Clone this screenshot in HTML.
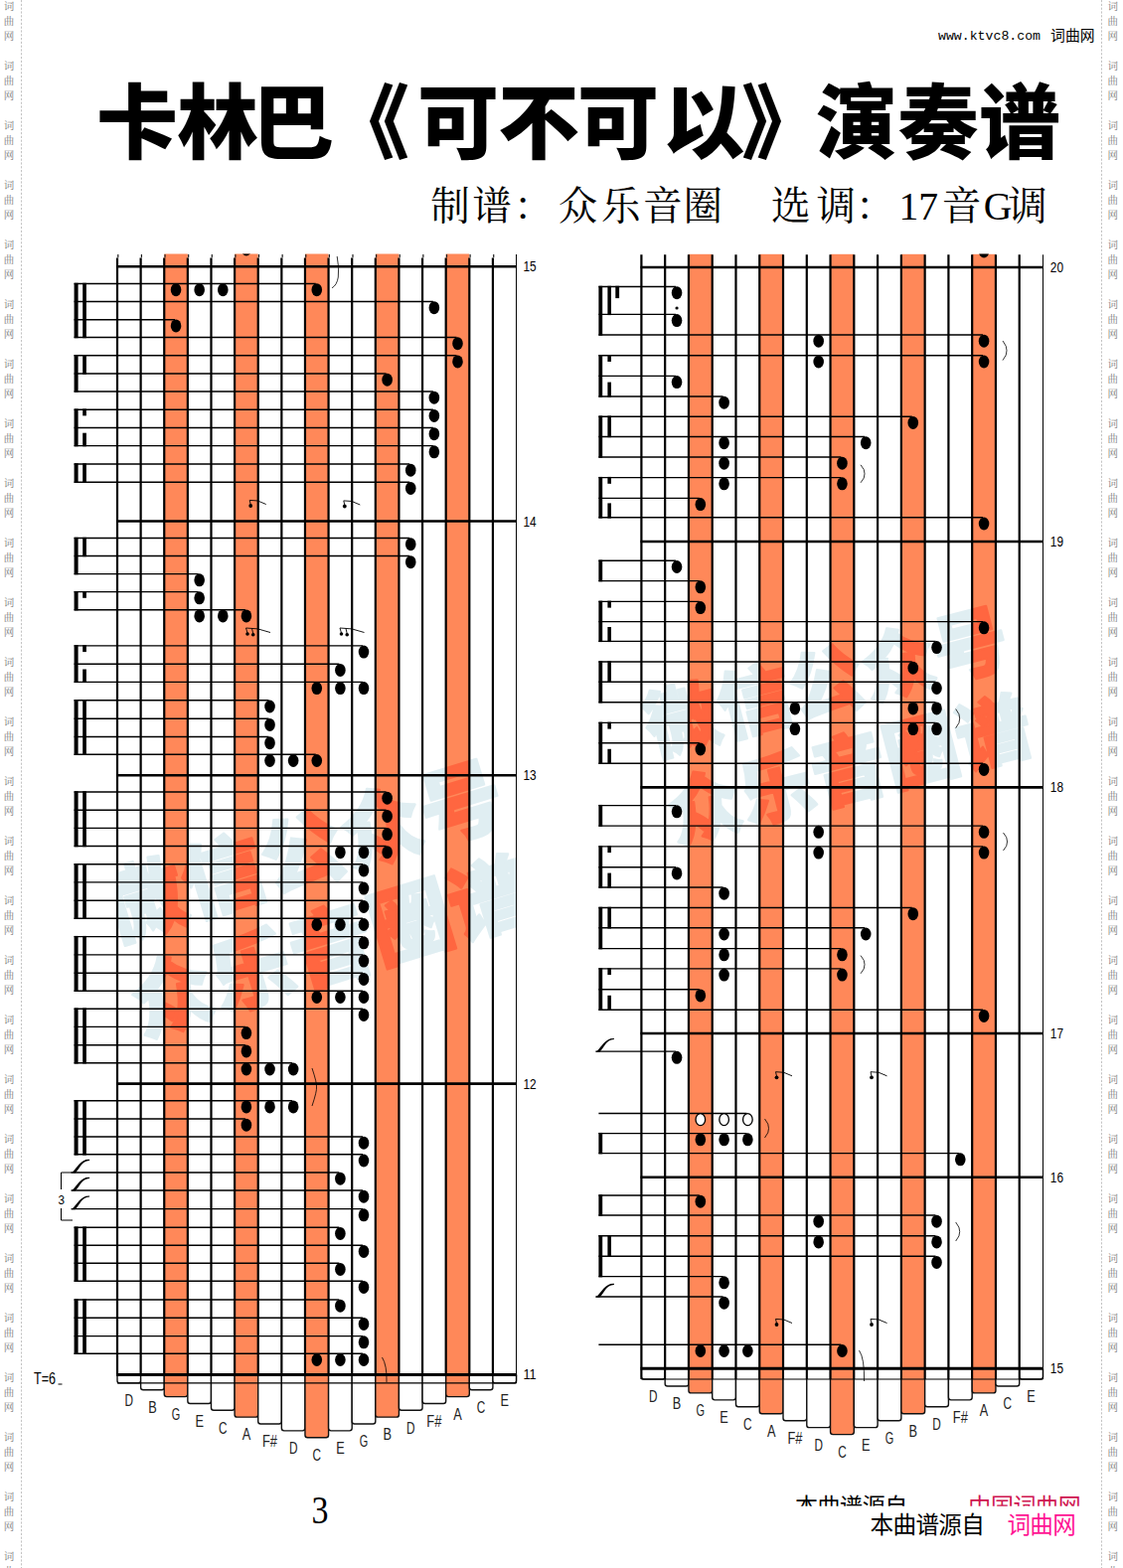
<!DOCTYPE html>
<html><head><meta charset="utf-8"><title>kalimba</title>
<style>html,body{margin:0;padding:0;background:#fff;width:1130px;height:1578px;overflow:hidden}svg{display:block}text{font-family:"Liberation Sans",sans-serif}text.mono{font-family:"Liberation Mono",monospace}text.serif{font-family:"Liberation Serif",serif}text.cjk{font-family:"Liberation Sans","Noto Sans CJK SC",sans-serif}text.cjkserif{font-family:"Liberation Serif","Noto Serif CJK SC",serif}text.wm{font-family:"Liberation Serif","Noto Serif CJK SC",serif;font-size:10.5px;fill:#808080}</style>
</head><body>
<svg width="1130" height="1578" viewBox="0 0 1130 1578">
<rect width="1130" height="1578" fill="#fff"/>
<clipPath id="pl"><rect x="118" y="256" width="402" height="1127"/></clipPath><clipPath id="pr"><rect x="645.4" y="256" width="404" height="1121"/></clipPath>
<g clip-path="url(#pl)">
<g transform="translate(318,902) rotate(-17)" fill="#E0EEF2" stroke="#E0EEF2" stroke-width="2.3" stroke-linejoin="round">
<text class="cjk" font-size="83" font-weight="900" x="-208.65 -125.19 -41.73 41.73 125.19" y="-16.56">微信公众号</text>
<text class="cjk" font-size="83" font-weight="900" x="-208.65 -125.19 -41.73 41.73 125.19" y="83.44">众乐音圈谱</text>
</g>
</g><g clip-path="url(#pr)">
<g transform="translate(842,728) rotate(-14.5)" fill="#E0EEF2" stroke="#E0EEF2" stroke-width="2.1" stroke-linejoin="round">
<text class="cjk" font-size="75" font-weight="900" x="-187.25 -112.35 -37.45 37.45 112.35" y="-15.1">微信公众号</text>
<text class="cjk" font-size="75" font-weight="900" x="-187.25 -112.35 -37.45 37.45 112.35" y="75.9">众乐音圈谱</text>
</g>
</g>
<rect x="165.24" y="255.5" width="23.62" height="1128.4" fill="#FF8859"/>
<rect x="236.1" y="255.5" width="23.62" height="1128.4" fill="#FF8859"/>
<rect x="306.96" y="255.5" width="23.62" height="1128.4" fill="#FF8859"/>
<rect x="377.82" y="255.5" width="23.62" height="1128.4" fill="#FF8859"/>
<rect x="448.68" y="255.5" width="23.62" height="1128.4" fill="#FF8859"/>
<rect x="692.94" y="255.8" width="23.77" height="1121.9" fill="#FF8859"/>
<rect x="764.25" y="255.8" width="23.77" height="1121.9" fill="#FF8859"/>
<rect x="835.56" y="255.8" width="23.77" height="1121.9" fill="#FF8859"/>
<rect x="906.87" y="255.8" width="23.77" height="1121.9" fill="#FF8859"/>
<rect x="978.18" y="255.8" width="23.77" height="1121.9" fill="#FF8859"/>
<clipPath id="bl"><rect x="165.24" y="255.5" width="23.62" height="1127.9"/><rect x="236.1" y="255.5" width="23.62" height="1127.9"/><rect x="306.96" y="255.5" width="23.62" height="1127.9"/><rect x="377.82" y="255.5" width="23.62" height="1127.9"/><rect x="448.68" y="255.5" width="23.62" height="1127.9"/></clipPath><clipPath id="br"><rect x="692.94" y="255.5" width="23.77" height="1121.7"/><rect x="764.25" y="255.5" width="23.77" height="1121.7"/><rect x="835.56" y="255.5" width="23.77" height="1121.7"/><rect x="906.87" y="255.5" width="23.77" height="1121.7"/><rect x="978.18" y="255.5" width="23.77" height="1121.7"/></clipPath>
<g clip-path="url(#bl)">
<g transform="translate(318,902) rotate(-17)" fill="#FF6640" stroke="#FF6640" stroke-width="2.3" stroke-linejoin="round">
<text class="cjk" font-size="83" font-weight="900" x="-208.65 -125.19 -41.73 41.73 125.19" y="-16.56">微信公众号</text>
<text class="cjk" font-size="83" font-weight="900" x="-208.65 -125.19 -41.73 41.73 125.19" y="83.44">众乐音圈谱</text>
</g>
</g>
<g clip-path="url(#br)">
<g transform="translate(842,728) rotate(-14.5)" fill="#FF6640" stroke="#FF6640" stroke-width="2.1" stroke-linejoin="round">
<text class="cjk" font-size="75" font-weight="900" x="-187.25 -112.35 -37.45 37.45 112.35" y="-15.1">微信公众号</text>
<text class="cjk" font-size="75" font-weight="900" x="-187.25 -112.35 -37.45 37.45 112.35" y="75.9">众乐音圈谱</text>
</g>
</g>
<path d="M118 1383.4V1389.4Q118 1391.9 120.5 1391.9H139.12Q141.62 1391.9 141.62 1389.4V1383.4" fill="#fff" stroke="#111" stroke-width="1.4"/>
<path d="M141.62 1383.4V1396.25Q141.62 1398.75 144.12 1398.75H162.74Q165.24 1398.75 165.24 1396.25V1383.4" fill="#fff" stroke="#111" stroke-width="1.4"/>
<path d="M165.24 1383.4V1403.1Q165.24 1405.6 167.74 1405.6H186.36Q188.86 1405.6 188.86 1403.1V1383.4" fill="#FF8859" stroke="#111" stroke-width="1.4"/>
<path d="M188.86 1383.4V1409.95Q188.86 1412.45 191.36 1412.45H209.98Q212.48 1412.45 212.48 1409.95V1383.4" fill="#fff" stroke="#111" stroke-width="1.4"/>
<path d="M212.48 1383.4V1416.8Q212.48 1419.3 214.98 1419.3H233.6Q236.1 1419.3 236.1 1416.8V1383.4" fill="#fff" stroke="#111" stroke-width="1.4"/>
<path d="M236.1 1383.4V1423.65Q236.1 1426.15 238.6 1426.15H257.22Q259.72 1426.15 259.72 1423.65V1383.4" fill="#FF8859" stroke="#111" stroke-width="1.4"/>
<path d="M259.72 1383.4V1430.5Q259.72 1433 262.22 1433H280.84Q283.34 1433 283.34 1430.5V1383.4" fill="#fff" stroke="#111" stroke-width="1.4"/>
<path d="M283.34 1383.4V1437.35Q283.34 1439.85 285.84 1439.85H304.46Q306.96 1439.85 306.96 1437.35V1383.4" fill="#fff" stroke="#111" stroke-width="1.4"/>
<path d="M306.96 1383.4V1444.2Q306.96 1446.7 309.46 1446.7H328.08Q330.58 1446.7 330.58 1444.2V1383.4" fill="#FF8859" stroke="#111" stroke-width="1.4"/>
<path d="M330.58 1383.4V1437.35Q330.58 1439.85 333.08 1439.85H351.7Q354.2 1439.85 354.2 1437.35V1383.4" fill="#fff" stroke="#111" stroke-width="1.4"/>
<path d="M354.2 1383.4V1430.5Q354.2 1433 356.7 1433H375.32Q377.82 1433 377.82 1430.5V1383.4" fill="#fff" stroke="#111" stroke-width="1.4"/>
<path d="M377.82 1383.4V1423.65Q377.82 1426.15 380.32 1426.15H398.94Q401.44 1426.15 401.44 1423.65V1383.4" fill="#FF8859" stroke="#111" stroke-width="1.4"/>
<path d="M401.44 1383.4V1416.8Q401.44 1419.3 403.94 1419.3H422.56Q425.06 1419.3 425.06 1416.8V1383.4" fill="#fff" stroke="#111" stroke-width="1.4"/>
<path d="M425.06 1383.4V1409.95Q425.06 1412.45 427.56 1412.45H446.18Q448.68 1412.45 448.68 1409.95V1383.4" fill="#fff" stroke="#111" stroke-width="1.4"/>
<path d="M448.68 1383.4V1403.1Q448.68 1405.6 451.18 1405.6H469.8Q472.3 1405.6 472.3 1403.1V1383.4" fill="#FF8859" stroke="#111" stroke-width="1.4"/>
<path d="M472.3 1383.4V1396.25Q472.3 1398.75 474.8 1398.75H493.42Q495.92 1398.75 495.92 1396.25V1383.4" fill="#fff" stroke="#111" stroke-width="1.4"/>
<path d="M495.92 1383.4V1389.4Q495.92 1391.9 498.42 1391.9H517.04Q519.54 1391.9 519.54 1389.4V1383.4" fill="#fff" stroke="#111" stroke-width="1.4"/>
<path d="M118 259.6V1383.4M141.62 259.6V1383.4M165.24 259.6V1383.4M188.86 259.6V1383.4M212.48 259.6V1383.4M236.1 259.6V1383.4M259.72 259.6V1383.4M283.34 259.6V1383.4M306.96 259.6V1383.4M330.58 259.6V1383.4M354.2 259.6V1383.4M377.82 259.6V1383.4M401.44 259.6V1383.4M425.06 259.6V1383.4M448.68 259.6V1383.4M472.3 259.6V1383.4M495.92 259.6V1383.4" stroke="#000" stroke-width="2.2" fill="none"/>
<path d="M118.8 256V259.2M142.42 256V259.2M166.04 256V259.2M189.66 256V259.2M213.28 256V259.2M236.9 256V259.2M260.52 256V259.2M284.14 256V259.2M307.76 256V259.2M331.38 256V259.2M355 256V259.2M378.62 256V259.2M402.24 256V259.2M425.86 256V259.2M449.48 256V259.2M473.1 256V259.2M496.72 256V259.2" stroke="#222" stroke-width="1.2" fill="none"/>
<path d="M519.54 256V1383.4" stroke="#000" stroke-width="1" fill="none"/>
<path d="M117.1 268.3H520.04" stroke="#000" stroke-width="2.6"/>
<text x="526.4" y="273.3" font-size="14" textLength="13.2" lengthAdjust="spacingAndGlyphs">15</text>
<path d="M117.1 524.5H520.04" stroke="#000" stroke-width="2.6"/>
<text x="526.4" y="529.5" font-size="14" textLength="13.2" lengthAdjust="spacingAndGlyphs">14</text>
<path d="M117.1 780.2H520.04" stroke="#000" stroke-width="2.6"/>
<text x="526.4" y="785.2" font-size="14" textLength="13.2" lengthAdjust="spacingAndGlyphs">13</text>
<path d="M117.1 1090.6H520.04" stroke="#000" stroke-width="2.6"/>
<text x="526.4" y="1095.6" font-size="14" textLength="13.2" lengthAdjust="spacingAndGlyphs">12</text>
<path d="M117.1 1383.4H520.04" stroke="#000" stroke-width="3.0"/>
<text x="526.4" y="1388.4" font-size="14" textLength="13.2" lengthAdjust="spacingAndGlyphs">11</text>
<path d="M118 1391.9H519.54M519.54 1383.4V1391.9" stroke="#000" stroke-width="1.1" fill="none"/>
<path d="M74.6 285.5H317.77M74.6 303.5H435.87M74.6 321.7H176.05M74.6 339.5H459.49M74.6 357.7H459.49M74.6 376H388.63M74.6 394H435.87M74.6 412.2H435.87M74.6 430.5H435.87M74.6 448.6H435.87M74.6 467H412.25M74.6 485.2H412.25M74.6 541.5H412.25M74.6 559.5H412.25M74.6 577.6H199.67M74.6 595.6H199.67M74.6 613.7H246.91M74.6 649.9H365.01M74.6 668.2H341.39M74.6 686.4H365.01M74.6 704.8H270.53M74.6 723.2H270.53M74.6 741.5H270.53M74.6 759.3H317.77M74.6 797H388.63M74.6 815.2H388.63M74.6 833.4H388.63M74.6 851.5H388.63M74.6 869.7H365.01M74.6 887.9H365.01M74.6 906.2H365.01M74.6 924.3H365.01M74.6 942.6H365.01M74.6 960.9H365.01M74.6 979.2H365.01M74.6 997.3H365.01M74.6 1015.2H365.01M74.6 1033.4H246.91M74.6 1051.7H246.91M74.6 1069.8H294.15M74.6 1107.7H294.15M74.6 1126H246.91M74.6 1144H365.01M74.6 1161.8H365.01M71.6 1180H341.39M71.6 1198H365.01M71.6 1216.6H365.01M74.6 1235.2H341.39M74.6 1253.2H365.01M74.6 1271.2H341.39M74.6 1289.2H365.01M74.6 1308H341.39M74.6 1326.2H365.01M74.6 1344.6H365.01M74.6 1362.3H365.01" stroke="#000" stroke-width="1.4" fill="none"/>
<rect x="74.6" y="284.8" width="4" height="55.4"/>
<rect x="83.2" y="284.8" width="3.7" height="55.4"/>
<rect x="74.6" y="357" width="4" height="37.7"/>
<rect x="83.2" y="357" width="3.7" height="19.7"/>
<rect x="74.6" y="411.5" width="4" height="37.8"/>
<rect x="83.2" y="411.5" width="3.7" height="6.9"/>
<rect x="83.2" y="435.7" width="3.7" height="13.6"/>
<rect x="74.6" y="466.3" width="4" height="19.6"/>
<rect x="83.2" y="466.3" width="3.7" height="19.6"/>
<rect x="74.6" y="540.8" width="4" height="37.5"/>
<rect x="83.2" y="540.8" width="3.7" height="19.4"/>
<rect x="74.6" y="594.9" width="4" height="19.5"/>
<rect x="83.2" y="594.9" width="3.7" height="6.9"/>
<rect x="74.6" y="649.2" width="4" height="37.9"/>
<rect x="83.2" y="649.2" width="3.7" height="6.9"/>
<rect x="83.2" y="673.5" width="3.7" height="13.6"/>
<rect x="74.6" y="704.1" width="4" height="55.9"/>
<rect x="83.2" y="704.1" width="3.7" height="55.9"/>
<rect x="74.6" y="796.3" width="4" height="55.9"/>
<rect x="83.2" y="796.3" width="3.7" height="55.9"/>
<rect x="74.6" y="869" width="4" height="56"/>
<rect x="83.2" y="869" width="3.7" height="56"/>
<rect x="74.6" y="941.9" width="4" height="56.1"/>
<rect x="83.2" y="941.9" width="3.7" height="56.1"/>
<rect x="74.6" y="1014.5" width="4" height="56"/>
<rect x="83.2" y="1014.5" width="3.7" height="56"/>
<rect x="74.6" y="1107" width="4" height="55.5"/>
<rect x="83.2" y="1107" width="3.7" height="55.5"/>
<rect x="74.6" y="1234.5" width="4" height="55.4"/>
<rect x="83.2" y="1234.5" width="3.7" height="55.4"/>
<rect x="74.6" y="1307.3" width="4" height="55.7"/>
<rect x="83.2" y="1307.3" width="3.7" height="55.7"/>
<ellipse cx="177.05" cy="291.7" rx="5.3" ry="6.5"/>
<ellipse cx="200.67" cy="291.7" rx="5.3" ry="6.5"/>
<ellipse cx="224.29" cy="291.7" rx="5.3" ry="6.5"/>
<ellipse cx="318.77" cy="291.7" rx="5.3" ry="6.5"/>
<ellipse cx="436.87" cy="309.7" rx="5.3" ry="6.5"/>
<ellipse cx="177.05" cy="327.9" rx="5.3" ry="6.5"/>
<ellipse cx="460.49" cy="345.7" rx="5.3" ry="6.5"/>
<ellipse cx="460.49" cy="363.9" rx="5.3" ry="6.5"/>
<ellipse cx="389.63" cy="382.2" rx="5.3" ry="6.5"/>
<ellipse cx="436.87" cy="400.2" rx="5.3" ry="6.5"/>
<ellipse cx="436.87" cy="418.4" rx="5.3" ry="6.5"/>
<ellipse cx="436.87" cy="436.7" rx="5.3" ry="6.5"/>
<ellipse cx="436.87" cy="454.8" rx="5.3" ry="6.5"/>
<ellipse cx="413.25" cy="473.2" rx="5.3" ry="6.5"/>
<ellipse cx="413.25" cy="491.4" rx="5.3" ry="6.5"/>
<ellipse cx="413.25" cy="547.7" rx="5.3" ry="6.5"/>
<ellipse cx="413.25" cy="565.7" rx="5.3" ry="6.5"/>
<ellipse cx="200.67" cy="583.8" rx="5.3" ry="6.5"/>
<ellipse cx="200.67" cy="601.8" rx="5.3" ry="6.5"/>
<ellipse cx="200.67" cy="619.9" rx="5.3" ry="6.5"/>
<ellipse cx="224.29" cy="619.9" rx="5.3" ry="6.5"/>
<ellipse cx="247.91" cy="619.9" rx="5.3" ry="6.5"/>
<ellipse cx="366.01" cy="656.1" rx="5.3" ry="6.5"/>
<ellipse cx="342.39" cy="674.4" rx="5.3" ry="6.5"/>
<ellipse cx="318.77" cy="692.6" rx="5.3" ry="6.5"/>
<ellipse cx="342.39" cy="692.6" rx="5.3" ry="6.5"/>
<ellipse cx="366.01" cy="692.6" rx="5.3" ry="6.5"/>
<ellipse cx="271.53" cy="711" rx="5.3" ry="6.5"/>
<ellipse cx="271.53" cy="729.4" rx="5.3" ry="6.5"/>
<ellipse cx="271.53" cy="747.7" rx="5.3" ry="6.5"/>
<ellipse cx="271.53" cy="765.5" rx="5.3" ry="6.5"/>
<ellipse cx="295.15" cy="765.5" rx="5.3" ry="6.5"/>
<ellipse cx="318.77" cy="765.5" rx="5.3" ry="6.5"/>
<ellipse cx="389.63" cy="803.2" rx="5.3" ry="6.5"/>
<ellipse cx="389.63" cy="821.4" rx="5.3" ry="6.5"/>
<ellipse cx="389.63" cy="839.6" rx="5.3" ry="6.5"/>
<ellipse cx="342.39" cy="857.7" rx="5.3" ry="6.5"/>
<ellipse cx="366.01" cy="857.7" rx="5.3" ry="6.5"/>
<ellipse cx="389.63" cy="857.7" rx="5.3" ry="6.5"/>
<ellipse cx="366.01" cy="875.9" rx="5.3" ry="6.5"/>
<ellipse cx="366.01" cy="894.1" rx="5.3" ry="6.5"/>
<ellipse cx="366.01" cy="912.4" rx="5.3" ry="6.5"/>
<ellipse cx="318.77" cy="930.5" rx="5.3" ry="6.5"/>
<ellipse cx="342.39" cy="930.5" rx="5.3" ry="6.5"/>
<ellipse cx="366.01" cy="930.5" rx="5.3" ry="6.5"/>
<ellipse cx="366.01" cy="948.8" rx="5.3" ry="6.5"/>
<ellipse cx="366.01" cy="967.1" rx="5.3" ry="6.5"/>
<ellipse cx="366.01" cy="985.4" rx="5.3" ry="6.5"/>
<ellipse cx="318.77" cy="1003.5" rx="5.3" ry="6.5"/>
<ellipse cx="342.39" cy="1003.5" rx="5.3" ry="6.5"/>
<ellipse cx="366.01" cy="1003.5" rx="5.3" ry="6.5"/>
<ellipse cx="366.01" cy="1021.4" rx="5.3" ry="6.5"/>
<ellipse cx="247.91" cy="1039.6" rx="5.3" ry="6.5"/>
<ellipse cx="247.91" cy="1057.9" rx="5.3" ry="6.5"/>
<ellipse cx="247.91" cy="1076" rx="5.3" ry="6.5"/>
<ellipse cx="271.53" cy="1076" rx="5.3" ry="6.5"/>
<ellipse cx="295.15" cy="1076" rx="5.3" ry="6.5"/>
<ellipse cx="247.91" cy="1113.9" rx="5.3" ry="6.5"/>
<ellipse cx="271.53" cy="1113.9" rx="5.3" ry="6.5"/>
<ellipse cx="295.15" cy="1113.9" rx="5.3" ry="6.5"/>
<ellipse cx="247.91" cy="1132.2" rx="5.3" ry="6.5"/>
<ellipse cx="366.01" cy="1150.2" rx="5.3" ry="6.5"/>
<ellipse cx="366.01" cy="1168" rx="5.3" ry="6.5"/>
<ellipse cx="342.39" cy="1186.2" rx="5.3" ry="6.5"/>
<path d="M71.6 1180.6L75.6 1180.6C80.6 1176 81.6 1168.5 90.1 1168L90.1 1166.8C80.6 1166.5 78.6 1175 71.6 1180.6Z"/>
<ellipse cx="366.01" cy="1204.2" rx="5.3" ry="6.5"/>
<path d="M71.6 1198.6L75.6 1198.6C80.6 1194 81.6 1186.5 90.1 1186L90.1 1184.8C80.6 1184.5 78.6 1193 71.6 1198.6Z"/>
<ellipse cx="366.01" cy="1222.8" rx="5.3" ry="6.5"/>
<path d="M71.6 1217.2L75.6 1217.2C80.6 1212.6 81.6 1205.1 90.1 1204.6L90.1 1203.4C80.6 1203.1 78.6 1211.6 71.6 1217.2Z"/>
<ellipse cx="342.39" cy="1241.4" rx="5.3" ry="6.5"/>
<ellipse cx="366.01" cy="1259.4" rx="5.3" ry="6.5"/>
<ellipse cx="342.39" cy="1277.4" rx="5.3" ry="6.5"/>
<ellipse cx="366.01" cy="1295.4" rx="5.3" ry="6.5"/>
<ellipse cx="342.39" cy="1314.2" rx="5.3" ry="6.5"/>
<ellipse cx="366.01" cy="1332.4" rx="5.3" ry="6.5"/>
<ellipse cx="366.01" cy="1350.8" rx="5.3" ry="6.5"/>
<ellipse cx="318.77" cy="1368.5" rx="5.3" ry="6.5"/>
<ellipse cx="342.39" cy="1368.5" rx="5.3" ry="6.5"/>
<ellipse cx="366.01" cy="1368.5" rx="5.3" ry="6.5"/>
<text x="125.56" y="1415.1" font-size="17" textLength="8.5" lengthAdjust="spacingAndGlyphs" fill="#222">D</text>
<text x="149.18" y="1421.95" font-size="17" textLength="8.5" lengthAdjust="spacingAndGlyphs" fill="#222">B</text>
<text x="172.8" y="1428.8" font-size="17" textLength="8.5" lengthAdjust="spacingAndGlyphs" fill="#222">G</text>
<text x="196.42" y="1435.65" font-size="17" textLength="8.5" lengthAdjust="spacingAndGlyphs" fill="#222">E</text>
<text x="220.04" y="1442.5" font-size="17" textLength="8.5" lengthAdjust="spacingAndGlyphs" fill="#222">C</text>
<text x="243.66" y="1449.35" font-size="17" textLength="8.5" lengthAdjust="spacingAndGlyphs" fill="#222">A</text>
<text x="264.03" y="1456.2" font-size="17" textLength="15" lengthAdjust="spacingAndGlyphs" fill="#222">F#</text>
<text x="290.9" y="1463.05" font-size="17" textLength="8.5" lengthAdjust="spacingAndGlyphs" fill="#222">D</text>
<text x="314.52" y="1469.9" font-size="17" textLength="8.5" lengthAdjust="spacingAndGlyphs" fill="#222">C</text>
<text x="338.14" y="1463.05" font-size="17" textLength="8.5" lengthAdjust="spacingAndGlyphs" fill="#222">E</text>
<text x="361.76" y="1456.2" font-size="17" textLength="8.5" lengthAdjust="spacingAndGlyphs" fill="#222">G</text>
<text x="385.38" y="1449.35" font-size="17" textLength="8.5" lengthAdjust="spacingAndGlyphs" fill="#222">B</text>
<text x="409" y="1442.5" font-size="17" textLength="8.5" lengthAdjust="spacingAndGlyphs" fill="#222">D</text>
<text x="429.37" y="1435.65" font-size="17" textLength="15" lengthAdjust="spacingAndGlyphs" fill="#222">F#</text>
<text x="456.24" y="1428.8" font-size="17" textLength="8.5" lengthAdjust="spacingAndGlyphs" fill="#222">A</text>
<text x="479.86" y="1421.95" font-size="17" textLength="8.5" lengthAdjust="spacingAndGlyphs" fill="#222">C</text>
<text x="503.48" y="1415.1" font-size="17" textLength="8.5" lengthAdjust="spacingAndGlyphs" fill="#222">E</text>
<circle cx="252.2" cy="509" r="1.9"/><path d="M252.5 509L251.2 503.4Q259.2 502.5 267.7 507.5" fill="none" stroke="#000" stroke-width="0.9"/>
<circle cx="346.8" cy="509.5" r="1.9"/><path d="M347.1 509.5L345.8 503.9Q353.8 503 362.3 508" fill="none" stroke="#000" stroke-width="0.9"/>
<circle cx="249" cy="638" r="1.8"/><circle cx="254.7" cy="638.8" r="1.8"/><path d="M249.3 638L247.5 632Q259 631.5 272 636.5M255 638.8L253.5 632.5" fill="none" stroke="#000" stroke-width="0.9"/>
<circle cx="343.5" cy="638" r="1.8"/><circle cx="349.2" cy="638.8" r="1.8"/><path d="M343.8 638L342 632Q353.5 631.5 366.5 636.5M349.5 638.8L348 632.5" fill="none" stroke="#000" stroke-width="0.9"/>
<path d="M314 1075Q319 1090 318.5 1094Q319 1098 314 1113" fill="none" stroke="#000" stroke-width="0.8"/>
<path d="M339.2 258Q341.5 270 340.3 279Q339 287 334 289.8" fill="none" stroke="#000" stroke-width="0.8"/>
<path d="M384.5 1366Q389.5 1374 389 1391" fill="none" stroke="#000" stroke-width="0.8"/>
<path d="M72 1180H61.5V1197M61.5 1216V1228H73" fill="none" stroke="#000" stroke-width="1"/>
<text x="58.6" y="1211.5" font-size="13" textLength="6.5" lengthAdjust="spacingAndGlyphs">3</text>
<clipPath id="ctl"><rect x="0" y="255.5" width="1130" height="20"/></clipPath><ellipse cx="247.91" cy="251" rx="5.2" ry="6.4" clip-path="url(#ctl)"/>
<text x="34" y="1393.2" font-size="16" textLength="22" lengthAdjust="spacingAndGlyphs">T=6</text><path d="M58.5 1393H62.5" stroke="#000" stroke-width="1"/>
<path d="M645.4 1377.2V1385.5Q645.4 1388 647.9 1388H666.67Q669.17 1388 669.17 1385.5V1377.2" fill="#fff" stroke="#111" stroke-width="1.4"/>
<path d="M669.17 1377.2V1392.45Q669.17 1394.95 671.67 1394.95H690.44Q692.94 1394.95 692.94 1392.45V1377.2" fill="#fff" stroke="#111" stroke-width="1.4"/>
<path d="M692.94 1377.2V1399.4Q692.94 1401.9 695.44 1401.9H714.21Q716.71 1401.9 716.71 1399.4V1377.2" fill="#FF8859" stroke="#111" stroke-width="1.4"/>
<path d="M716.71 1377.2V1406.35Q716.71 1408.85 719.21 1408.85H737.98Q740.48 1408.85 740.48 1406.35V1377.2" fill="#fff" stroke="#111" stroke-width="1.4"/>
<path d="M740.48 1377.2V1413.3Q740.48 1415.8 742.98 1415.8H761.75Q764.25 1415.8 764.25 1413.3V1377.2" fill="#fff" stroke="#111" stroke-width="1.4"/>
<path d="M764.25 1377.2V1420.25Q764.25 1422.75 766.75 1422.75H785.52Q788.02 1422.75 788.02 1420.25V1377.2" fill="#FF8859" stroke="#111" stroke-width="1.4"/>
<path d="M788.02 1377.2V1427.2Q788.02 1429.7 790.52 1429.7H809.29Q811.79 1429.7 811.79 1427.2V1377.2" fill="#fff" stroke="#111" stroke-width="1.4"/>
<path d="M811.79 1377.2V1434.15Q811.79 1436.65 814.29 1436.65H833.06Q835.56 1436.65 835.56 1434.15V1377.2" fill="#fff" stroke="#111" stroke-width="1.4"/>
<path d="M835.56 1377.2V1441.1Q835.56 1443.6 838.06 1443.6H856.83Q859.33 1443.6 859.33 1441.1V1377.2" fill="#FF8859" stroke="#111" stroke-width="1.4"/>
<path d="M859.33 1377.2V1434.15Q859.33 1436.65 861.83 1436.65H880.6Q883.1 1436.65 883.1 1434.15V1377.2" fill="#fff" stroke="#111" stroke-width="1.4"/>
<path d="M883.1 1377.2V1427.2Q883.1 1429.7 885.6 1429.7H904.37Q906.87 1429.7 906.87 1427.2V1377.2" fill="#fff" stroke="#111" stroke-width="1.4"/>
<path d="M906.87 1377.2V1420.25Q906.87 1422.75 909.37 1422.75H928.14Q930.64 1422.75 930.64 1420.25V1377.2" fill="#FF8859" stroke="#111" stroke-width="1.4"/>
<path d="M930.64 1377.2V1413.3Q930.64 1415.8 933.14 1415.8H951.91Q954.41 1415.8 954.41 1413.3V1377.2" fill="#fff" stroke="#111" stroke-width="1.4"/>
<path d="M954.41 1377.2V1406.35Q954.41 1408.85 956.91 1408.85H975.68Q978.18 1408.85 978.18 1406.35V1377.2" fill="#fff" stroke="#111" stroke-width="1.4"/>
<path d="M978.18 1377.2V1399.4Q978.18 1401.9 980.68 1401.9H999.45Q1001.95 1401.9 1001.95 1399.4V1377.2" fill="#FF8859" stroke="#111" stroke-width="1.4"/>
<path d="M1001.95 1377.2V1392.45Q1001.95 1394.95 1004.45 1394.95H1023.22Q1025.72 1394.95 1025.72 1392.45V1377.2" fill="#fff" stroke="#111" stroke-width="1.4"/>
<path d="M1025.72 1377.2V1385.5Q1025.72 1388 1028.22 1388H1046.99Q1049.49 1388 1049.49 1385.5V1377.2" fill="#fff" stroke="#111" stroke-width="1.4"/>
<path d="M645.4 256.3V1377.2M669.17 256.3V1377.2M692.94 256.3V1377.2M716.71 256.3V1377.2M740.48 256.3V1377.2M764.25 256.3V1377.2M788.02 256.3V1377.2M811.79 256.3V1377.2M835.56 256.3V1377.2M859.33 256.3V1377.2M883.1 256.3V1377.2M906.87 256.3V1377.2M930.64 256.3V1377.2M954.41 256.3V1377.2M978.18 256.3V1377.2M1001.95 256.3V1377.2M1025.72 256.3V1377.2" stroke="#000" stroke-width="2.2" fill="none"/>
<path d="M0 0" stroke="#222" stroke-width="1.2" fill="none"/>
<path d="M1049.49 256.3V1377.2" stroke="#000" stroke-width="1" fill="none"/>
<path d="M644.5 269H1049.99" stroke="#000" stroke-width="2.6"/>
<text x="1056.8" y="274" font-size="14" textLength="13.2" lengthAdjust="spacingAndGlyphs">20</text>
<path d="M644.5 545H1049.99" stroke="#000" stroke-width="2.6"/>
<text x="1056.8" y="550" font-size="14" textLength="13.2" lengthAdjust="spacingAndGlyphs">19</text>
<path d="M644.5 792.4H1049.99" stroke="#000" stroke-width="2.6"/>
<text x="1056.8" y="797.4" font-size="14" textLength="13.2" lengthAdjust="spacingAndGlyphs">18</text>
<path d="M644.5 1040H1049.99" stroke="#000" stroke-width="2.6"/>
<text x="1056.8" y="1045" font-size="14" textLength="13.2" lengthAdjust="spacingAndGlyphs">17</text>
<path d="M644.5 1184.8H1049.99" stroke="#000" stroke-width="2.6"/>
<text x="1056.8" y="1189.8" font-size="14" textLength="13.2" lengthAdjust="spacingAndGlyphs">16</text>
<path d="M644.5 1377.2H1049.99" stroke="#000" stroke-width="3.0"/>
<text x="1056.8" y="1382.2" font-size="14" textLength="13.2" lengthAdjust="spacingAndGlyphs">15</text>
<path d="M645.4 1377.2V1388M669.17 1377.2V1388M692.94 1377.2V1388M716.71 1377.2V1388M740.48 1377.2V1388M764.25 1377.2V1388M788.02 1377.2V1388M811.79 1377.2V1388M835.56 1377.2V1388M859.33 1377.2V1388M883.1 1377.2V1388M906.87 1377.2V1388M930.64 1377.2V1388M954.41 1377.2V1388M978.18 1377.2V1388M1001.95 1377.2V1388M1025.72 1377.2V1388" stroke="#000" stroke-width="2" fill="none"/>
<path d="M645.4 1388H1049.49M1049.49 1377.2V1388" stroke="#000" stroke-width="1.1" fill="none"/>
<path d="M602.4 288.5H680.05M602.4 316.4H680.05M602.4 337H989.07M602.4 357.8H989.07M602.4 378.4H680.05M602.4 399H727.6M602.4 419.2H917.75M602.4 439.5H870.21M602.4 460H846.44M602.4 480.6H846.44M602.4 501.4H703.82M602.4 520.8H989.07M602.4 564.3H680.05M602.4 584.6H703.82M602.4 605.4H703.82M602.4 625.6H989.07M602.4 645.4H941.52M602.4 666H917.75M602.4 686.3H941.52M602.4 706.7H941.52M602.4 727.4H941.52M602.4 747.8H703.82M602.4 768.2H989.07M602.4 810.6H680.05M602.4 831.1H989.07M602.4 851.9H989.07M602.4 872.7H680.05M602.4 893H727.6M602.4 913.5H917.75M602.4 933.8H870.21M602.4 954.6H846.44M602.4 974.9H846.44M602.4 995.7H703.82M602.4 1016.2H989.07M599.4 1058.1H680.05M602.4 1120.5H751.37M602.4 1140.6H751.37M602.4 1160.6H965.29M602.4 1203H703.82M602.4 1223H941.52M602.4 1243.7H941.52M602.4 1264.2H941.52M602.4 1284.6H727.6M599.4 1305H727.6M602.4 1353.3H846.44" stroke="#000" stroke-width="1.4" fill="none"/>
<rect x="602.4" y="287.8" width="3.8" height="49.9"/>
<rect x="611.4" y="287.8" width="3.6" height="29.3"/>
<rect x="619.3" y="287.8" width="3.8" height="12.3"/>
<rect x="602.4" y="357.1" width="3.8" height="42.6"/>
<rect x="611.4" y="357.1" width="3.6" height="6.9"/>
<rect x="611.4" y="384.6" width="3.6" height="15.1"/>
<rect x="602.4" y="418.5" width="3.8" height="42.2"/>
<rect x="611.4" y="418.5" width="3.6" height="21.7"/>
<rect x="602.4" y="479.9" width="3.8" height="41.6"/>
<rect x="611.4" y="479.9" width="3.6" height="6.9"/>
<rect x="611.4" y="506.4" width="3.6" height="15.1"/>
<rect x="602.4" y="563.6" width="3.8" height="21.7"/>
<rect x="602.4" y="604.7" width="3.8" height="41.4"/>
<rect x="611.4" y="604.7" width="3.6" height="6.9"/>
<rect x="611.4" y="631" width="3.6" height="15.1"/>
<rect x="602.4" y="665.3" width="3.8" height="42.1"/>
<rect x="611.4" y="665.3" width="3.6" height="21.7"/>
<rect x="602.4" y="726.7" width="3.8" height="42.2"/>
<rect x="611.4" y="726.7" width="3.6" height="6.9"/>
<rect x="611.4" y="753.8" width="3.6" height="15.1"/>
<rect x="602.4" y="809.9" width="3.8" height="21.9"/>
<rect x="602.4" y="851.2" width="3.8" height="42.5"/>
<rect x="611.4" y="851.2" width="3.6" height="6.9"/>
<rect x="611.4" y="878.6" width="3.6" height="15.1"/>
<rect x="602.4" y="912.8" width="3.8" height="42.5"/>
<rect x="611.4" y="912.8" width="3.6" height="21.7"/>
<rect x="602.4" y="974.2" width="3.8" height="42.7"/>
<rect x="611.4" y="974.2" width="3.6" height="6.9"/>
<rect x="611.4" y="1001.8" width="3.6" height="15.1"/>
<rect x="602.4" y="1139.9" width="3.8" height="21.4"/>
<rect x="602.4" y="1202.3" width="3.8" height="21.4"/>
<rect x="602.4" y="1243" width="3.8" height="42.3"/>
<rect x="611.4" y="1243" width="3.6" height="21.9"/>
<ellipse cx="681.05" cy="294.7" rx="5.3" ry="6.5"/>
<ellipse cx="681.05" cy="322.6" rx="5.3" ry="6.5"/>
<ellipse cx="823.67" cy="343.2" rx="5.3" ry="6.5"/>
<ellipse cx="990.07" cy="343.2" rx="5.3" ry="6.5"/>
<ellipse cx="823.67" cy="364" rx="5.3" ry="6.5"/>
<ellipse cx="990.07" cy="364" rx="5.3" ry="6.5"/>
<ellipse cx="681.05" cy="384.6" rx="5.3" ry="6.5"/>
<ellipse cx="728.6" cy="405.2" rx="5.3" ry="6.5"/>
<ellipse cx="918.75" cy="425.4" rx="5.3" ry="6.5"/>
<ellipse cx="728.6" cy="445.7" rx="5.3" ry="6.5"/>
<ellipse cx="871.21" cy="445.7" rx="5.3" ry="6.5"/>
<ellipse cx="728.6" cy="466.2" rx="5.3" ry="6.5"/>
<ellipse cx="847.44" cy="466.2" rx="5.3" ry="6.5"/>
<ellipse cx="728.6" cy="486.8" rx="5.3" ry="6.5"/>
<ellipse cx="847.44" cy="486.8" rx="5.3" ry="6.5"/>
<ellipse cx="704.82" cy="507.6" rx="5.3" ry="6.5"/>
<ellipse cx="990.07" cy="527" rx="5.3" ry="6.5"/>
<ellipse cx="681.05" cy="570.5" rx="5.3" ry="6.5"/>
<ellipse cx="704.82" cy="590.8" rx="5.3" ry="6.5"/>
<ellipse cx="704.82" cy="611.6" rx="5.3" ry="6.5"/>
<ellipse cx="990.07" cy="631.8" rx="5.3" ry="6.5"/>
<ellipse cx="942.52" cy="651.6" rx="5.3" ry="6.5"/>
<ellipse cx="918.75" cy="672.2" rx="5.3" ry="6.5"/>
<ellipse cx="942.52" cy="692.5" rx="5.3" ry="6.5"/>
<ellipse cx="799.9" cy="712.9" rx="5.3" ry="6.5"/>
<ellipse cx="918.75" cy="712.9" rx="5.3" ry="6.5"/>
<ellipse cx="942.52" cy="712.9" rx="5.3" ry="6.5"/>
<ellipse cx="799.9" cy="733.6" rx="5.3" ry="6.5"/>
<ellipse cx="918.75" cy="733.6" rx="5.3" ry="6.5"/>
<ellipse cx="942.52" cy="733.6" rx="5.3" ry="6.5"/>
<ellipse cx="704.82" cy="754" rx="5.3" ry="6.5"/>
<ellipse cx="990.07" cy="774.4" rx="5.3" ry="6.5"/>
<ellipse cx="681.05" cy="816.8" rx="5.3" ry="6.5"/>
<ellipse cx="823.67" cy="837.3" rx="5.3" ry="6.5"/>
<ellipse cx="990.07" cy="837.3" rx="5.3" ry="6.5"/>
<ellipse cx="823.67" cy="858.1" rx="5.3" ry="6.5"/>
<ellipse cx="990.07" cy="858.1" rx="5.3" ry="6.5"/>
<ellipse cx="681.05" cy="878.9" rx="5.3" ry="6.5"/>
<ellipse cx="728.6" cy="899.2" rx="5.3" ry="6.5"/>
<ellipse cx="918.75" cy="919.7" rx="5.3" ry="6.5"/>
<ellipse cx="728.6" cy="940" rx="5.3" ry="6.5"/>
<ellipse cx="871.21" cy="940" rx="5.3" ry="6.5"/>
<ellipse cx="728.6" cy="960.8" rx="5.3" ry="6.5"/>
<ellipse cx="847.44" cy="960.8" rx="5.3" ry="6.5"/>
<ellipse cx="728.6" cy="981.1" rx="5.3" ry="6.5"/>
<ellipse cx="847.44" cy="981.1" rx="5.3" ry="6.5"/>
<ellipse cx="704.82" cy="1001.9" rx="5.3" ry="6.5"/>
<ellipse cx="990.07" cy="1022.4" rx="5.3" ry="6.5"/>
<ellipse cx="681.05" cy="1064.3" rx="5.3" ry="6.5"/>
<path d="M599.4 1058.7L603.4 1058.7C608.4 1054.1 609.4 1046.6 617.9 1046.1L617.9 1044.9C608.4 1044.6 606.4 1053.1 599.4 1058.7Z"/>
<ellipse cx="704.82" cy="1126.7" rx="4.8" ry="6.0" fill="#fff" stroke="#000" stroke-width="1.3"/>
<ellipse cx="728.6" cy="1126.7" rx="4.8" ry="6.0" fill="#fff" stroke="#000" stroke-width="1.3"/>
<ellipse cx="752.37" cy="1126.7" rx="4.8" ry="6.0" fill="#fff" stroke="#000" stroke-width="1.3"/>
<ellipse cx="704.82" cy="1146.8" rx="5.3" ry="6.5"/>
<ellipse cx="728.6" cy="1146.8" rx="5.3" ry="6.5"/>
<ellipse cx="752.37" cy="1146.8" rx="5.3" ry="6.5"/>
<ellipse cx="966.29" cy="1166.8" rx="5.3" ry="6.5"/>
<ellipse cx="704.82" cy="1209.2" rx="5.3" ry="6.5"/>
<ellipse cx="823.67" cy="1229.2" rx="5.3" ry="6.5"/>
<ellipse cx="942.52" cy="1229.2" rx="5.3" ry="6.5"/>
<ellipse cx="823.67" cy="1249.9" rx="5.3" ry="6.5"/>
<ellipse cx="942.52" cy="1249.9" rx="5.3" ry="6.5"/>
<ellipse cx="942.52" cy="1270.4" rx="5.3" ry="6.5"/>
<ellipse cx="728.6" cy="1290.8" rx="5.3" ry="6.5"/>
<ellipse cx="728.6" cy="1311.2" rx="5.3" ry="6.5"/>
<path d="M599.4 1305.6L603.4 1305.6C608.4 1301 609.4 1293.5 617.9 1293L617.9 1291.8C608.4 1291.5 606.4 1300 599.4 1305.6Z"/>
<ellipse cx="704.82" cy="1359.5" rx="5.3" ry="6.5"/>
<ellipse cx="728.6" cy="1359.5" rx="5.3" ry="6.5"/>
<ellipse cx="752.37" cy="1359.5" rx="5.3" ry="6.5"/>
<ellipse cx="847.44" cy="1359.5" rx="5.3" ry="6.5"/>
<text x="653.03" y="1411.2" font-size="17" textLength="8.5" lengthAdjust="spacingAndGlyphs" fill="#222">D</text>
<text x="676.8" y="1418.15" font-size="17" textLength="8.5" lengthAdjust="spacingAndGlyphs" fill="#222">B</text>
<text x="700.57" y="1425.1" font-size="17" textLength="8.5" lengthAdjust="spacingAndGlyphs" fill="#222">G</text>
<text x="724.35" y="1432.05" font-size="17" textLength="8.5" lengthAdjust="spacingAndGlyphs" fill="#222">E</text>
<text x="748.12" y="1439" font-size="17" textLength="8.5" lengthAdjust="spacingAndGlyphs" fill="#222">C</text>
<text x="771.88" y="1445.95" font-size="17" textLength="8.5" lengthAdjust="spacingAndGlyphs" fill="#222">A</text>
<text x="792.4" y="1452.9" font-size="17" textLength="15" lengthAdjust="spacingAndGlyphs" fill="#222">F#</text>
<text x="819.42" y="1459.85" font-size="17" textLength="8.5" lengthAdjust="spacingAndGlyphs" fill="#222">D</text>
<text x="843.19" y="1466.8" font-size="17" textLength="8.5" lengthAdjust="spacingAndGlyphs" fill="#222">C</text>
<text x="866.96" y="1459.85" font-size="17" textLength="8.5" lengthAdjust="spacingAndGlyphs" fill="#222">E</text>
<text x="890.74" y="1452.9" font-size="17" textLength="8.5" lengthAdjust="spacingAndGlyphs" fill="#222">G</text>
<text x="914.5" y="1445.95" font-size="17" textLength="8.5" lengthAdjust="spacingAndGlyphs" fill="#222">B</text>
<text x="938.27" y="1439" font-size="17" textLength="8.5" lengthAdjust="spacingAndGlyphs" fill="#222">D</text>
<text x="958.79" y="1432.05" font-size="17" textLength="15" lengthAdjust="spacingAndGlyphs" fill="#222">F#</text>
<text x="985.82" y="1425.1" font-size="17" textLength="8.5" lengthAdjust="spacingAndGlyphs" fill="#222">A</text>
<text x="1009.59" y="1418.15" font-size="17" textLength="8.5" lengthAdjust="spacingAndGlyphs" fill="#222">C</text>
<text x="1033.36" y="1411.2" font-size="17" textLength="8.5" lengthAdjust="spacingAndGlyphs" fill="#222">E</text>
<circle cx="681.05" cy="310" r="1.6"/>
<path d="M1009 343Q1013.5 348.8 1013 352.8Q1013.5 356.8 1009 362.6" fill="none" stroke="#000" stroke-width="0.8"/>
<path d="M866 467.8Q870.5 472.8 870 476.8Q870.5 480.8 866 485.8" fill="none" stroke="#000" stroke-width="0.8"/>
<path d="M961.7 713.5Q966.2 719.1 965.7 723.1Q966.2 727.1 961.7 732.7" fill="none" stroke="#000" stroke-width="0.8"/>
<path d="M1009.5 838Q1014 843 1013.5 847Q1014 851 1009.5 856" fill="none" stroke="#000" stroke-width="0.8"/>
<path d="M866 961.6Q870.5 966.7 870 970.7Q870.5 974.7 866 979.8" fill="none" stroke="#000" stroke-width="0.8"/>
<path d="M769.5 1126Q774 1131.5 773.5 1135.5Q774 1139.5 769.5 1145" fill="none" stroke="#000" stroke-width="0.8"/>
<path d="M961.7 1230Q966.2 1235.5 965.7 1239.5Q966.2 1243.5 961.7 1249" fill="none" stroke="#000" stroke-width="0.8"/>
<circle cx="781.5" cy="1084.3" r="1.9"/><path d="M781.8 1084.3L780.5 1078.7Q788.5 1077.8 797 1082.8" fill="none" stroke="#000" stroke-width="0.9"/>
<circle cx="877" cy="1084.3" r="1.9"/><path d="M877.3 1084.3L876 1078.7Q884 1077.8 892.5 1082.8" fill="none" stroke="#000" stroke-width="0.9"/>
<circle cx="781.5" cy="1333" r="1.9"/><path d="M781.8 1333L780.5 1327.4Q788.5 1326.5 797 1331.5" fill="none" stroke="#000" stroke-width="0.9"/>
<circle cx="877" cy="1333" r="1.9"/><path d="M877.3 1333L876 1327.4Q884 1326.5 892.5 1331.5" fill="none" stroke="#000" stroke-width="0.9"/>
<path d="M864.5 1359Q870 1367 869.5 1390" fill="none" stroke="#000" stroke-width="0.8"/>
<ellipse cx="990.07" cy="253" rx="5.2" ry="6.4" clip-path="url(#ctl)"/>
<text class="cjk" font-size="82" font-weight="900" fill="#000" y="153" x="97 178 254 330 420 501 581 667 746 821 903 985">卡林巴《可不可以》演奏谱</text>
<text class="cjkserif" font-size="39.6" fill="#000" y="220.6" x="433.3 475.3 517 561.7 605.1 647.1 687.4">制谱：众乐音圈</text>
<text class="cjkserif" font-size="39.6" fill="#000" y="220.6" x="776.1 821.6 861 904.4 924.2 947.7 989.7 1014.2">选调：17音G调</text>
<text x="944" y="40" class="mono" font-size="13.2" textLength="103" lengthAdjust="spacingAndGlyphs">www.ktvc8.com</text>
<text class="cjk" x="1057.1" y="41" font-size="14.8" fill="#000">词曲网</text>
<g stroke="#c4c4c4" stroke-width="1" stroke-dasharray="2.2 1.6" fill="none"><path d="M21.5 0V1578"/><path d="M1108.5 0V1578"/></g>
<g fill="#c4c4c4">
<text class="wm" x="3.75" y="9.5">词<tspan x="3.75" dy="15">曲</tspan><tspan x="3.75" dy="15">网</tspan></text>
<text class="wm" x="1114.55" y="9.5">词<tspan x="1114.55" dy="15">曲</tspan><tspan x="1114.55" dy="15">网</tspan></text>
<text class="wm" x="3.75" y="69.5">词<tspan x="3.75" dy="15">曲</tspan><tspan x="3.75" dy="15">网</tspan></text>
<text class="wm" x="1114.55" y="69.5">词<tspan x="1114.55" dy="15">曲</tspan><tspan x="1114.55" dy="15">网</tspan></text>
<text class="wm" x="3.75" y="129.5">词<tspan x="3.75" dy="15">曲</tspan><tspan x="3.75" dy="15">网</tspan></text>
<text class="wm" x="1114.55" y="129.5">词<tspan x="1114.55" dy="15">曲</tspan><tspan x="1114.55" dy="15">网</tspan></text>
<text class="wm" x="3.75" y="189.5">词<tspan x="3.75" dy="15">曲</tspan><tspan x="3.75" dy="15">网</tspan></text>
<text class="wm" x="1114.55" y="189.5">词<tspan x="1114.55" dy="15">曲</tspan><tspan x="1114.55" dy="15">网</tspan></text>
<text class="wm" x="3.75" y="249.5">词<tspan x="3.75" dy="15">曲</tspan><tspan x="3.75" dy="15">网</tspan></text>
<text class="wm" x="1114.55" y="249.5">词<tspan x="1114.55" dy="15">曲</tspan><tspan x="1114.55" dy="15">网</tspan></text>
<text class="wm" x="3.75" y="309.5">词<tspan x="3.75" dy="15">曲</tspan><tspan x="3.75" dy="15">网</tspan></text>
<text class="wm" x="1114.55" y="309.5">词<tspan x="1114.55" dy="15">曲</tspan><tspan x="1114.55" dy="15">网</tspan></text>
<text class="wm" x="3.75" y="369.5">词<tspan x="3.75" dy="15">曲</tspan><tspan x="3.75" dy="15">网</tspan></text>
<text class="wm" x="1114.55" y="369.5">词<tspan x="1114.55" dy="15">曲</tspan><tspan x="1114.55" dy="15">网</tspan></text>
<text class="wm" x="3.75" y="429.5">词<tspan x="3.75" dy="15">曲</tspan><tspan x="3.75" dy="15">网</tspan></text>
<text class="wm" x="1114.55" y="429.5">词<tspan x="1114.55" dy="15">曲</tspan><tspan x="1114.55" dy="15">网</tspan></text>
<text class="wm" x="3.75" y="489.5">词<tspan x="3.75" dy="15">曲</tspan><tspan x="3.75" dy="15">网</tspan></text>
<text class="wm" x="1114.55" y="489.5">词<tspan x="1114.55" dy="15">曲</tspan><tspan x="1114.55" dy="15">网</tspan></text>
<text class="wm" x="3.75" y="549.5">词<tspan x="3.75" dy="15">曲</tspan><tspan x="3.75" dy="15">网</tspan></text>
<text class="wm" x="1114.55" y="549.5">词<tspan x="1114.55" dy="15">曲</tspan><tspan x="1114.55" dy="15">网</tspan></text>
<text class="wm" x="3.75" y="609.5">词<tspan x="3.75" dy="15">曲</tspan><tspan x="3.75" dy="15">网</tspan></text>
<text class="wm" x="1114.55" y="609.5">词<tspan x="1114.55" dy="15">曲</tspan><tspan x="1114.55" dy="15">网</tspan></text>
<text class="wm" x="3.75" y="669.5">词<tspan x="3.75" dy="15">曲</tspan><tspan x="3.75" dy="15">网</tspan></text>
<text class="wm" x="1114.55" y="669.5">词<tspan x="1114.55" dy="15">曲</tspan><tspan x="1114.55" dy="15">网</tspan></text>
<text class="wm" x="3.75" y="729.5">词<tspan x="3.75" dy="15">曲</tspan><tspan x="3.75" dy="15">网</tspan></text>
<text class="wm" x="1114.55" y="729.5">词<tspan x="1114.55" dy="15">曲</tspan><tspan x="1114.55" dy="15">网</tspan></text>
<text class="wm" x="3.75" y="789.5">词<tspan x="3.75" dy="15">曲</tspan><tspan x="3.75" dy="15">网</tspan></text>
<text class="wm" x="1114.55" y="789.5">词<tspan x="1114.55" dy="15">曲</tspan><tspan x="1114.55" dy="15">网</tspan></text>
<text class="wm" x="3.75" y="849.5">词<tspan x="3.75" dy="15">曲</tspan><tspan x="3.75" dy="15">网</tspan></text>
<text class="wm" x="1114.55" y="849.5">词<tspan x="1114.55" dy="15">曲</tspan><tspan x="1114.55" dy="15">网</tspan></text>
<text class="wm" x="3.75" y="909.5">词<tspan x="3.75" dy="15">曲</tspan><tspan x="3.75" dy="15">网</tspan></text>
<text class="wm" x="1114.55" y="909.5">词<tspan x="1114.55" dy="15">曲</tspan><tspan x="1114.55" dy="15">网</tspan></text>
<text class="wm" x="3.75" y="969.5">词<tspan x="3.75" dy="15">曲</tspan><tspan x="3.75" dy="15">网</tspan></text>
<text class="wm" x="1114.55" y="969.5">词<tspan x="1114.55" dy="15">曲</tspan><tspan x="1114.55" dy="15">网</tspan></text>
<text class="wm" x="3.75" y="1029.5">词<tspan x="3.75" dy="15">曲</tspan><tspan x="3.75" dy="15">网</tspan></text>
<text class="wm" x="1114.55" y="1029.5">词<tspan x="1114.55" dy="15">曲</tspan><tspan x="1114.55" dy="15">网</tspan></text>
<text class="wm" x="3.75" y="1089.5">词<tspan x="3.75" dy="15">曲</tspan><tspan x="3.75" dy="15">网</tspan></text>
<text class="wm" x="1114.55" y="1089.5">词<tspan x="1114.55" dy="15">曲</tspan><tspan x="1114.55" dy="15">网</tspan></text>
<text class="wm" x="3.75" y="1149.5">词<tspan x="3.75" dy="15">曲</tspan><tspan x="3.75" dy="15">网</tspan></text>
<text class="wm" x="1114.55" y="1149.5">词<tspan x="1114.55" dy="15">曲</tspan><tspan x="1114.55" dy="15">网</tspan></text>
<text class="wm" x="3.75" y="1209.5">词<tspan x="3.75" dy="15">曲</tspan><tspan x="3.75" dy="15">网</tspan></text>
<text class="wm" x="1114.55" y="1209.5">词<tspan x="1114.55" dy="15">曲</tspan><tspan x="1114.55" dy="15">网</tspan></text>
<text class="wm" x="3.75" y="1269.5">词<tspan x="3.75" dy="15">曲</tspan><tspan x="3.75" dy="15">网</tspan></text>
<text class="wm" x="1114.55" y="1269.5">词<tspan x="1114.55" dy="15">曲</tspan><tspan x="1114.55" dy="15">网</tspan></text>
<text class="wm" x="3.75" y="1329.5">词<tspan x="3.75" dy="15">曲</tspan><tspan x="3.75" dy="15">网</tspan></text>
<text class="wm" x="1114.55" y="1329.5">词<tspan x="1114.55" dy="15">曲</tspan><tspan x="1114.55" dy="15">网</tspan></text>
<text class="wm" x="3.75" y="1389.5">词<tspan x="3.75" dy="15">曲</tspan><tspan x="3.75" dy="15">网</tspan></text>
<text class="wm" x="1114.55" y="1389.5">词<tspan x="1114.55" dy="15">曲</tspan><tspan x="1114.55" dy="15">网</tspan></text>
<text class="wm" x="3.75" y="1449.5">词<tspan x="3.75" dy="15">曲</tspan><tspan x="3.75" dy="15">网</tspan></text>
<text class="wm" x="1114.55" y="1449.5">词<tspan x="1114.55" dy="15">曲</tspan><tspan x="1114.55" dy="15">网</tspan></text>
<text class="wm" x="3.75" y="1509.5">词<tspan x="3.75" dy="15">曲</tspan><tspan x="3.75" dy="15">网</tspan></text>
<text class="wm" x="1114.55" y="1509.5">词<tspan x="1114.55" dy="15">曲</tspan><tspan x="1114.55" dy="15">网</tspan></text>
<text class="wm" x="3.75" y="1569.5">词<tspan x="3.75" dy="15">曲</tspan><tspan x="3.75" dy="15">网</tspan></text>
<text class="wm" x="1114.55" y="1569.5">词<tspan x="1114.55" dy="15">曲</tspan><tspan x="1114.55" dy="15">网</tspan></text>
</g>
<text x="313.5" y="1533" class="serif" font-size="40" textLength="17" lengthAdjust="spacingAndGlyphs">3</text>
<clipPath id="cf"><rect x="780" y="1500" width="330" height="15.8"/></clipPath><g clip-path="url(#cf)">
<text class="cjk" font-size="23" fill="#000" y="1523.5" x="799.9 822.5 845.1 867.7 890.3">本曲谱源自</text>
<text class="cjk" font-size="23" fill="#CF1550" y="1523.5" x="974.3 996.9 1019.5 1042.1 1064.7">中国词曲网</text>
</g>
<text class="cjk" font-size="23.6" fill="#000" y="1543.2" x="875.6 898.5 921.4 944.3 967.2">本曲谱源自</text>
<text class="cjk" font-size="23.6" fill="#FF1493" y="1543.2" x="1013.4 1036.3 1059.2">词曲网</text>
</svg>
</body></html>
